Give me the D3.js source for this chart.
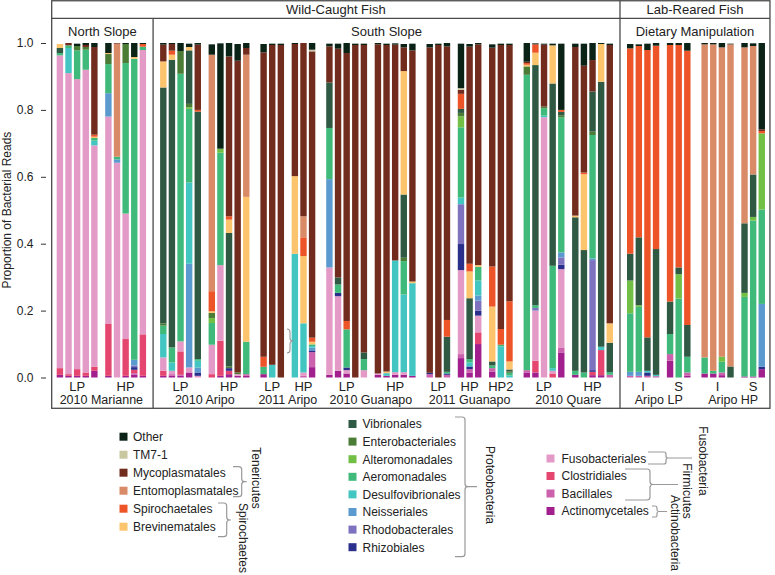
<!DOCTYPE html>
<html><head><meta charset="utf-8">
<script src="https://cdn.jsdelivr.net/npm/d3@7"></script>
<style>
body{margin:0;background:#fff}
svg{display:block;font-family:"Liberation Sans",Arial,Helvetica,sans-serif}
</style>
</head><body>
<svg id="c" width="775" height="575"></svg>
<script>
// ---- categories (legend order, top of stack first) ----
const taxa = ["Other","TM7-1","Mycoplasmatales","Entomoplasmatales","Spirochaetales","Brevinematales",
  "Vibrionales","Enterobacteriales","Alteromonadales","Aeromonadales","Desulfovibrionales","Neisseriales",
  "Rhodobacterales","Rhizobiales","Fusobacteriales","Clostridiales","Bacillales","Actinomycetales"];
const keys = ["ot","tm","my","en","sp","br","vi","eb","al","ae","de","ne","rh","rz","fu","cl","ba","ac"];
const colors = ["#0b2216","#c9c79f","#712c1d","#d98a66","#ed5428","#fcc46c",
  "#2f5942","#4b7c36","#72bf45","#3fba7b","#43c5c2","#5b9acf",
  "#7c72bd","#2a2f8b","#e39ac6","#e5466f","#cc62ad","#a1208d"];
const yTicks = [0,0.2,0.4,0.6,0.8,1.0];

// ---- per-sample proportions, by sample group ----
const marianneLP = [
  {br:.012,vi:.015,ae:.007,fu:.935,cl:.02,ac:.008},
  {my:.007,ae:.008,de:.075,fu:.9,cl:.005,ac:.005},
  {ot:.007,eb:.013,ae:.086,fu:.867,cl:.02,ac:.005},
  {ot:.006,my:.006,eb:.008,ae:.06,fu:.905,cl:.01,ac:.005},
  {ot:.012,my:.262,sp:.006,br:.004,ae:.008,de:.014,fu:.662,cl:.012,ac:.02}];
const marianneHP = [
  {ot:.03,br:.003,eb:.03,ae:.087,ne:.07,fu:.62,cl:.155,ac:.005},
  {my:.002,en:.338,ae:.008,ne:.01,fu:.642},
  {ot:.003,eb:.057,ae:.45,fu:.375,cl:.11,ac:.005},
  {ot:.042,br:.005,ae:.9,ne:.017,rh:.005,rz:.008,cl:.01,ba:.005,ac:.008},
  {ot:.003,sp:.008,ae:.01,fu:.85,cl:.124,ac:.005}];
const aripo10LP = [
  {ot:.005,my:.05,br:.078,vi:.705,eb:.007,ae:.025,de:.07,fu:.04,cl:.015,ac:.005},
  {ot:.003,my:.02,sp:.012,br:.015,vi:.86,ae:.045,de:.025,fu:.01,ba:.005,ac:.005},
  {ot:.025,eb:.068,ae:.8,fu:.03,cl:.07,ba:.003,ac:.005},
  {ot:.01,br:.01,vi:.16,eb:.01,al:.005,ae:.22,de:.243,ne:.31,fu:.015,ac:.015},
  {ot:.005,my:.195,sp:.005,vi:.74,ae:.005,de:.02,ne:.015,rz:.01,fu:.005}];
const aripo10HP = [
  {ot:.031,en:.707,sp:.06,br:.005,eb:.015,al:.015,ae:.065,fu:.088,cl:.01},
  {ot:.315,al:.012,ae:.336,fu:.226,cl:.105,ac:.005},
  {ot:.04,my:.478,sp:.01,br:.04,vi:.399,eb:.005,rz:.008,cl:.01,ac:.01},
  {ot:.05,my:.932,eb:.005,fu:.005,ac:.005},
  {ot:.015,my:.02,en:.425,br:.433,ae:.097,ba:.005,ac:.005}];
const aripo11LP = [
  {ot:.025,my:.91,sp:.03,ae:.022,ac:.01},
  {ot:.004,my:.956,de:.038},
  {ot:.004,my:.994}];
const aripo11HP = [
  {ot:.003,my:.395,br:.232,de:.37},
  {my:.518,en:.063,sp:.056,br:.201,de:.147,fu:.01,ba:.005},
  {ot:.02,tm:.005,my:.856,sp:.012,br:.008,ae:.005,de:.005,ne:.008,rz:.005,ba:.045,ac:.031}];
const guanapo10LP = [
  {ot:.008,my:.108,vi:.136,ae:.153,ne:.264,fu:.321,ac:.008},
  {ot:.015,my:.684,vi:.021,ae:.025,rz:.01,fu:.223,ac:.02},
  {ot:.03,my:.801,sp:.025,ae:.114,rz:.008,fu:.01,ac:.012},
  {ot:.004,my:.994},
  {ot:.004,my:.919,vi:.02,ae:.033,fu:.022}];
const guanapo10HP = [
  {ot:.004,my:.984,fu:.004,ac:.008},
  {ot:.004,my:.976,br:.005,de:.008,ac:.005},
  {ot:.004,my:.645,de:.334,fu:.008,ac:.008},
  {ot:.01,my:.071,br:.369,vi:.189,eb:.01,ae:.1,de:.232,fu:.008,ac:.008},
  {ot:.02,my:.691,br:.005,de:.277,ac:.005}];
const guanapo11LP = [
  {ot:.01,my:.973,rz:.004,ba:.01},
  {ot:.004,my:.994},
  {ot:.01,my:.818,sp:.05,vi:.105,ae:.005,rz:.004,ba:.008}];
const guanapo11HP = [
  {ot:.133,tm:.005,my:.012,sp:.045,vi:.012,eb:.01,al:.033,ae:.21,de:.02,rh:.119,rz:.078,fu:.251,ba:.012,ac:.058},
  {ot:.008,my:.649,sp:.023,br:.08,vi:.182,ae:.01,de:.012,rz:.008,ba:.01,ac:.015},
  {ot:.004,my:.66,br:.005,ae:.041,de:.045,ne:.015,rh:.03,rz:.015,fu:.05,cl:.035,ac:.1}];
const guanapo11HP2 = [
  {ot:.01,my:.654,sp:.12,br:.164,vi:.012,ae:.008,ba:.01,ac:.018},
  {ot:.004,my:.849,sp:.047,ae:.005,de:.093},
  {ot:.004,my:.766,sp:.18,br:.024,vi:.006,eb:.004,ae:.008,de:.006}];
const quare10LP = [
  {ot:.056,my:.004,sp:.005,br:.005,eb:.025,ae:.883,ba:.007,ac:.015},
  {ot:.003,sp:.025,br:.037,vi:.718,ae:.008,rh:.008,fu:.15,cl:.035,ac:.015},
  {ot:.003,my:.185,eb:.005,ae:.022,de:.005,fu:.778},
  {ot:.005,br:.114,vi:.545,ae:.306,de:.008,fu:.008,cl:.012},
  {ot:.198,sp:.006,vi:.01,eb:.006,ae:.404,ne:.015,rh:.022,rz:.013,fu:.234,ba:.015,ac:.075}];
const quare10HP = [
  {ot:.01,my:.504,br:.005,vi:.459,ae:.012,ac:.008},
  {ot:.066,my:.319,sp:.005,br:.227,vi:.366,ae:.015},
  {ot:.051,my:.094,vi:.12,eb:.01,ae:.369,ne:.005,rh:.329,rz:.005,cl:.01,ac:.007},
  {ot:.003,br:.113,vi:.792,de:.01,cl:.075,ac:.007},
  {ot:.004,my:.832,br:.058,vi:.088,ae:.008,ba:.008}];
const dietLP_I = [
  {ot:.013,sp:.614,vi:.08,al:.098,ae:.175,ne:.012,ba:.005},
  {ot:.005,sp:.572,vi:.203,al:.005,ae:.194,ne:.012,ba:.005},
  {ot:.019,sp:.859,vi:.1,de:.005,rz:.01,ba:.005},
  {ot:.008,sp:.608,vi:.376,de:.004,ba:.004}];
const dietLP_S = [
  {ot:.006,sp:.767,vi:.097,ae:.06,ba:.02,ac:.05},
  {ot:.006,sp:.665,vi:.02,al:.073,ae:.236},
  {ot:.023,sp:.82,vi:.095,ae:.047,ba:.01,ac:.005}];
const dietHP_I = [
  {ot:.004,en:.936,ae:.048,ac:.012},
  {ot:.004,en:.976,ae:.008,ac:.012},
  {ot:.013,en:.925,al:.015,ae:.032,ba:.008,ac:.007},
  {ot:.002,en:.963,vi:.033}];
const dietHP_S = [
  {ot:.013,en:.526,vi:.208,al:.012,ae:.238,ac:.003},
  {ot:.008,en:.384,vi:.127,al:.011,ae:.466,ac:.003},
  {ot:.258,my:.005,sp:.007,al:.228,ae:.282,ne:.188,rz:.007,ac:.025}];

// ---- group structure ----
const groups = [
  {top:"Wild-Caught Fish", panel:"North Slope", site:"2010 Marianne", sub:"LP", bars:marianneLP},
  {top:"Wild-Caught Fish", panel:"North Slope", site:"2010 Marianne", sub:"HP", bars:marianneHP},
  {top:"Wild-Caught Fish", panel:"South Slope", site:"2010 Aripo", sub:"LP", bars:aripo10LP},
  {top:"Wild-Caught Fish", panel:"South Slope", site:"2010 Aripo", sub:"HP", bars:aripo10HP},
  {top:"Wild-Caught Fish", panel:"South Slope", site:"2011 Aripo", sub:"LP", bars:aripo11LP},
  {top:"Wild-Caught Fish", panel:"South Slope", site:"2011 Aripo", sub:"HP", bars:aripo11HP},
  {top:"Wild-Caught Fish", panel:"South Slope", site:"2010 Guanapo", sub:"LP", bars:guanapo10LP},
  {top:"Wild-Caught Fish", panel:"South Slope", site:"2010 Guanapo", sub:"HP", bars:guanapo10HP},
  {top:"Wild-Caught Fish", panel:"South Slope", site:"2011 Guanapo", sub:"LP", bars:guanapo11LP},
  {top:"Wild-Caught Fish", panel:"South Slope", site:"2011 Guanapo", sub:"HP", bars:guanapo11HP},
  {top:"Wild-Caught Fish", panel:"South Slope", site:"2011 Guanapo", sub:"HP2", bars:guanapo11HP2},
  {top:"Wild-Caught Fish", panel:"South Slope", site:"2010 Quare", sub:"LP", bars:quare10LP},
  {top:"Wild-Caught Fish", panel:"South Slope", site:"2010 Quare", sub:"HP", bars:quare10HP},
  {top:"Lab-Reared Fish", panel:"Dietary Manipulation", site:"Aripo LP", sub:"I", bars:dietLP_I},
  {top:"Lab-Reared Fish", panel:"Dietary Manipulation", site:"Aripo LP", sub:"S", bars:dietLP_S},
  {top:"Lab-Reared Fish", panel:"Dietary Manipulation", site:"Aripo HP", sub:"I", bars:dietHP_I},
  {top:"Lab-Reared Fish", panel:"Dietary Manipulation", site:"Aripo HP", sub:"S", bars:dietHP_S}];

// ---- layout ----
const pitch = 8.62, x0 = 56.7, barW = 6.4;
const gapSub = 5.4/pitch, gapSite = 8.7/pitch, gapPanel = 11.8/pitch;
const rows = [];
let u = -1;
groups.forEach((g,gi)=>{
  if(gi>0){
    const p = groups[gi-1];
    u += p.panel!==g.panel ? gapPanel : (p.site!==g.site ? gapSite : gapSub);
  }
  g.first = u+1;
  g.bars.forEach(b=>{ u += 1; rows.push(Object.assign({gi}, b, {u})); });
  g.last = u;
});
const uMax = u;
const x = d3.scaleLinear().domain([0, uMax+1]).range([x0, x0+(uMax+1)*pitch]);
const y = d3.scaleLinear().domain([0,1]).range([377.5, 43]);

const svg = d3.select("#c");
const ink = "#222";

// stacked bars
const stackKeys = keys.slice().reverse();
const series = d3.stack().keys(stackKeys).value((d,k)=>d[k]||0)(rows);
const colorOf = d3.scaleOrdinal().domain(keys).range(colors);
svg.append("g").selectAll("g").data(series).join("g")
  .attr("fill", s=>colorOf(s.key))
  .selectAll("rect").data(s=>s.filter(d=>d[1]-d[0]>0)).join("rect")
  .attr("x", d=>x(d.data.u)).attr("width", barW)
  .attr("y", d=>y(Math.min(1,d[1]))).attr("height", d=>Math.max(0, y(d[0])-y(Math.min(1,d[1]))));

// frame
const frameTop = 0.75, frameBot = 408.3, hdr = 18.3;
const left = x(0) - 5, right = x(uMax) + barW + 5;
const fr = svg.append("g").attr("stroke","#4a4a4a").attr("stroke-width",1.3).attr("fill","none");
fr.append("rect").attr("x",left).attr("y",frameTop).attr("width",right-left).attr("height",frameBot-frameTop);
fr.append("line").attr("x1",left).attr("x2",right).attr("y1",hdr).attr("y2",hdr);

// panel spans
function spanOf(filter){
  const gs = groups.filter(filter);
  return [x(gs[0].first), x(gs[gs.length-1].last)+barW];
}
const panels = Array.from(new Set(groups.map(g=>g.panel)));
const panelBounds = panels.map(p=>spanOf(g=>g.panel===p));
panelBounds.forEach((b,i)=>{
  if(i>0){
    const bx = (panelBounds[i-1][1]+b[0])/2;
    const topChange = groups.find(g=>g.panel===panels[i]).top !== groups.find(g=>g.panel===panels[i-1]).top;
    fr.append("line").attr("x1",bx).attr("x2",bx).attr("y1", topChange?frameTop:hdr).attr("y2",frameBot);
    b.lo = bx; panelBounds[i-1].hi = bx;
  }
});
panelBounds[0].lo = left; panelBounds[panelBounds.length-1].hi = right;

// header texts
panels.forEach((p,i)=>{
  svg.append("text").attr("x",(panelBounds[i].lo+panelBounds[i].hi)/2).attr("y",36)
    .attr("text-anchor","middle").attr("font-size",13).attr("fill",ink).text(p);
});
const tops = Array.from(new Set(groups.map(g=>g.top)));
tops.forEach(t=>{
  const ps = panels.filter(p=>groups.find(g=>g.panel===p).top===t).map(p=>panelBounds[panels.indexOf(p)]);
  svg.append("text").attr("x",(ps[0].lo+ps[ps.length-1].hi)/2).attr("y",14)
    .attr("text-anchor","middle").attr("font-size",13).attr("fill",ink).text(t);
});

// bottom labels
groups.forEach(g=>{
  svg.append("text").attr("x",(x(g.first)+x(g.last)+barW)/2).attr("y",391)
    .attr("text-anchor","middle").attr("font-size",13).attr("fill",ink).text(g.sub);
});
const sites = Array.from(new Set(groups.map(g=>g.site)));
sites.forEach(s=>{
  const sp = spanOf(g=>g.site===s);
  svg.append("text").attr("x",(sp[0]+sp[1])/2).attr("y",404.3)
    .attr("text-anchor","middle").attr("font-size",12.5).attr("fill",ink).text(s);
});

// y axis
const ax = svg.append("g").attr("transform","translate(46,0)")
  .call(d3.axisLeft(y).tickValues(yTicks).tickFormat(d3.format(".1f")).tickSize(5).tickPadding(7.5));
ax.select(".domain").remove();
ax.selectAll("line").attr("stroke","#333");
ax.selectAll("text").attr("font-size",12).attr("fill",ink).attr("font-family","Liberation Sans, Arial, sans-serif");
svg.append("text").attr("transform","translate(11,210) rotate(-90)").attr("text-anchor","middle")
  .attr("font-size",12).attr("fill",ink).text("Proportion of Bacterial Reads");

// small bracket inside plot (2011 Aripo)
const brk = svg.append("g").attr("fill","none").attr("stroke","#999").attr("stroke-width",1.1);
function brace(xl, xm, xt, y0, yt, y1){
  const r = Math.min(3,(yt-y0)/3,(y1-yt)/3);
  return `M${xl},${y0} L${xm-r},${y0} Q${xm},${y0} ${xm},${y0+r} L${xm},${yt-r} Q${xm},${yt} ${xm+r},${yt} L${xt},${yt}`
    + ` M${xm+r},${yt} Q${xm},${yt} ${xm},${yt+r} L${xm},${y1-r} Q${xm},${y1} ${xm-r},${y1} L${xl},${y1}`;
}
brk.append("path").attr("d", brace(287,290,293.5,329,341,353));

// legend
const leg = svg.append("g");
const cols = [
  {items:[0,1,2,3,4,5], sx:119.5, tx:133, y0:436.7, dy:18},
  {items:[6,7,8,9,10,11,12,13], sx:348.5, tx:362.5, y0:424, dy:17.6},
  {items:[14,15,16,17], sx:546.5, tx:561.5, y0:458.5, dy:17.5}];
cols.forEach(c=>{
  c.items.forEach((k,i)=>{
    const yy = c.y0 + i*c.dy;
    leg.append("rect").attr("x",c.sx).attr("y",yy-4).attr("width",8).attr("height",8).attr("fill",colors[k]);
    leg.append("text").attr("x",c.tx).attr("y",yy+4.3).attr("font-size",12).attr("fill",ink).text(taxa[k]);
  });
});
const lb = svg.append("g").attr("fill","none").attr("stroke","#999").attr("stroke-width",1.2);
lb.append("path").attr("d", brace(233,241.7,246.7,466.7,481.7,496.7));
lb.append("path").attr("d", brace(218,226.7,231,503,520,536.7));
lb.append("path").attr("d", brace(455,465,477,417,486.7,556.7));
lb.append("path").attr("d", brace(648,666,692,452,458,464));
lb.append("path").attr("d", brace(625,650,678,469,484.5,500));
lb.append("path").attr("d", brace(652,657,667,506,511.5,517));
const phyla = [
  {t:"Tenericutes", x:256.7, y:478},
  {t:"Spirochaetes", x:243, y:538},
  {t:"Proteobacteria", x:490, y:485},
  {t:"Fusobacteria", x:703, y:461},
  {t:"Firmicutes", x:687, y:491},
  {t:"Actinobacteria", x:675, y:533}];
phyla.forEach(p=>{
  leg.append("text").attr("transform",`translate(${p.x},${p.y}) rotate(90)`).attr("dy","0.35em")
    .attr("text-anchor","middle").attr("font-size",12).attr("fill",ink).text(p.t);
});
</script>
</body></html>
